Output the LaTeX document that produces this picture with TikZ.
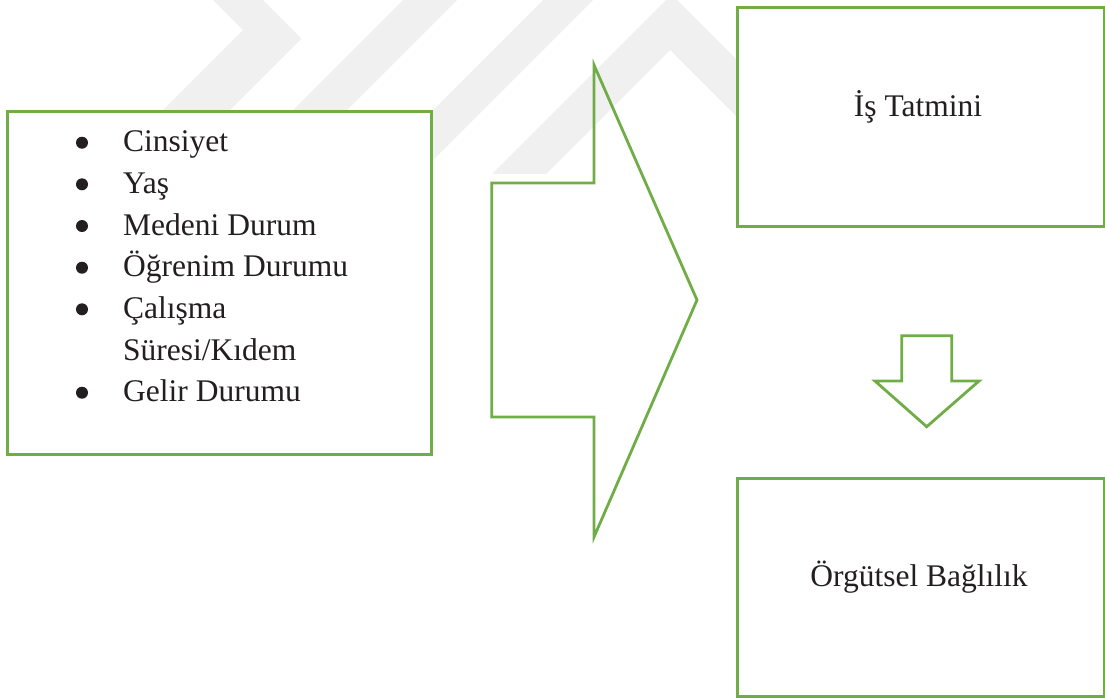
\documentclass[tikz,border=0pt]{standalone}
\usepackage{fontspec}
\setmainfont{Liberation Serif}
\definecolor{lgreen}{HTML}{70AD47}
\definecolor{wm}{HTML}{F0F0F0}
\definecolor{txt}{HTML}{231F20}
\tikzset{
  gbox/.style={draw=lgreen, line width=2.8pt, fill=white, inner sep=0pt},
  garrow/.style={draw=lgreen, line width=2.8pt, line join=miter},
  wmark/.style={fill=wm},
  item/.style={anchor=base west, inner sep=0pt, font=\fontsize{31.5}{36}\selectfont, text=txt},
  bul/.style={circle, fill=txt, inner sep=0pt, minimum size=12pt},
  btext/.style={anchor=base, inner sep=0pt, font=\fontsize{31.5}{36}\selectfont, text=txt},
}
\begin{document}
\begin{tikzpicture}[x=1pt,y=-1pt]
\useasboundingbox (0,0) rectangle (1105,697);
% faint watermark
\begin{scope}
  \clip (0,0) rectangle (1105,173);
  \fill[wmark] (213,0) -- (263,0) -- (301.5,38.5) -- (163,177) -- (96,177) -- (243,30) -- cycle;
  \fill[wmark] (403,0) -- (457,0) -- (280,177) -- (226,177) -- cycle;
  \fill[wmark] (543,0) -- (593,0) -- (416,177) -- (366,177) -- cycle;
  \fill[wmark] (489,177) -- (671.5,-5.5) -- (800,123) -- (800,180) -- (670,50) -- (543,177) -- cycle;
\end{scope}
% boxes
\node[gbox, minimum width=424pt, minimum height=343pt, anchor=north west] (left) at (6,110) {};
\node[gbox, minimum width=367pt, minimum height=219pt, anchor=north west] (is) at (736,6) {};
\node[gbox, minimum width=367pt, minimum height=218pt, anchor=north west] (org) at (736,477) {};
% list
\node[item] (l1) at (123,151.7) {Cinsiyet};
\node[item] (l2) at (123,193.3) {Yaş};
\node[item] (l3) at (123,235) {Medeni Durum};
\node[item] (l4) at (123,276.7) {Öğrenim Durumu};
\node[item] (l5) at (123,318.3) {Çalışma};
\node[item] (l6) at (123,360) {Süresi/Kıdem};
\node[item] (l7) at (123,401.7) {Gelir Durumu};
\node[bul] (b1) at (82,142.7) {};
\node[bul] (b2) at (82,184.3) {};
\node[bul] (b3) at (82,226) {};
\node[bul] (b4) at (82,267.7) {};
\node[bul] (b5) at (82,309.3) {};
\node[bul] (b7) at (82,392.7) {};
% box texts
\node[btext] (ist) at (918,116) {İş Tatmini};
\node[btext] (orgt) at (919,586) {Örgütsel Bağlılık};
% block arrows
\draw[garrow] (491.7,183) -- (594,183) -- (594,65) -- (697,300) -- (594,537) -- (594,417) -- (491.7,417) -- cycle;
\draw[garrow] (901.7,335.7) -- (951.7,335.7) -- (951.7,381) -- (979,381) -- (926.7,426.7) -- (875,381) -- (901.7,381) -- cycle;
\end{tikzpicture}
\end{document}
